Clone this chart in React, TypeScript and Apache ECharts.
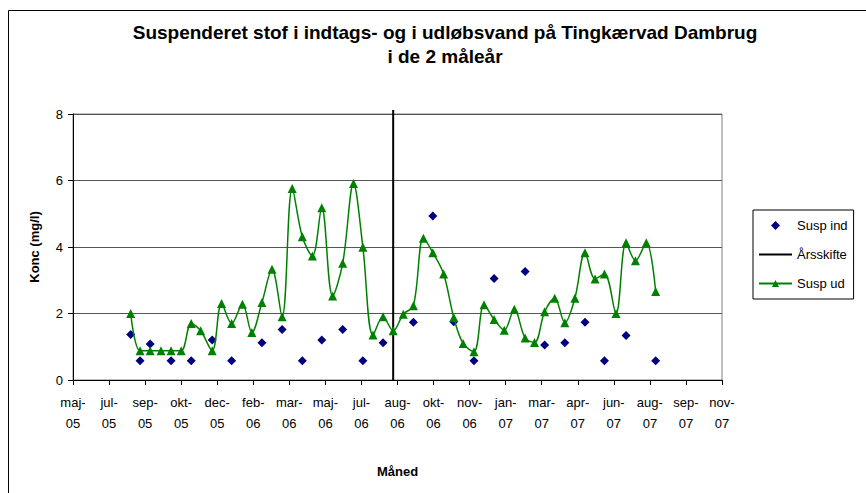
import React, { useEffect, useRef } from "react";
import * as echarts from "echarts";

// Axis start date (tick every 50 days from here)
const AXIS_START = "2005-05-28";
const AXIS_SPAN_DAYS = 900;
const TICK_DAYS = 50;
const MONTHS_DA = ["jan", "feb", "mar", "apr", "maj", "jun", "jul", "aug", "sep", "okt", "nov", "dec"];

const udDates = [
  "2005-08-16", "2005-08-29", "2005-09-12", "2005-09-27", "2005-10-11", "2005-10-25", "2005-11-08", "2005-11-21", "2005-12-07", "2005-12-20",
  "2006-01-03", "2006-01-18", "2006-01-31", "2006-02-14", "2006-02-28", "2006-03-14", "2006-03-28", "2006-04-11", "2006-04-25", "2006-05-08",
  "2006-05-23", "2006-06-06", "2006-06-21", "2006-07-04", "2006-07-18", "2006-08-01", "2006-08-15", "2006-08-29", "2006-09-12", "2006-09-26",
  "2006-10-09", "2006-10-24", "2006-11-07", "2006-11-20", "2006-12-05", "2006-12-19",
  "2007-01-02", "2007-01-16", "2007-01-30", "2007-02-14", "2007-02-27", "2007-03-13", "2007-03-27", "2007-04-10", "2007-04-24", "2007-05-08",
  "2007-05-22", "2007-06-04", "2007-06-20", "2007-07-04", "2007-07-17", "2007-08-01", "2007-08-14",
];
const udValues = [
  2.0, 0.88, 0.88, 0.88, 0.88, 0.88, 1.7, 1.48, 0.88, 2.3,
  1.7, 2.28, 1.43, 2.33, 3.33, 1.9, 5.76, 4.31, 3.73, 5.18,
  2.53, 3.51, 5.91, 3.99, 1.35, 1.9, 1.48, 1.98, 2.23, 4.26,
  3.83, 3.19, 1.88, 1.1, 0.85, 2.26,
  1.82, 1.5, 2.13, 1.26, 1.13, 2.05, 2.46, 1.72, 2.46, 3.83,
  3.04, 3.19, 2.0, 4.13, 3.59, 4.13, 2.66,
];

const indDates = [
  "2005-08-16", "2005-08-29", "2005-09-12", "2005-10-11", "2005-11-08", "2005-12-07", "2006-01-03", "2006-02-14", "2006-03-14", "2006-04-11",
  "2006-05-08", "2006-06-06", "2006-07-04", "2006-08-01", "2006-09-12", "2006-10-09", "2006-11-07", "2006-12-05", "2007-01-02", "2007-02-14",
  "2007-03-13", "2007-04-10", "2007-05-08", "2007-06-04", "2007-07-04", "2007-08-14",
];
const indValues = [
  1.37, 0.58, 1.08, 0.58, 0.58, 1.2, 0.58, 1.12, 1.52, 0.58,
  1.2, 1.52, 0.58, 1.12, 1.74, 4.93, 1.75, 0.58, 3.05, 3.26,
  1.05, 1.12, 1.74, 0.58, 1.34, 0.58,
];

const aarsskifteDate = "2006-08-15";
const aarsskifteValues = [0, 8.12];

const yTicks = { min: 0, max: 8, interval: 2 };

const DAY = 86400000;
const startMs = Date.parse(AXIS_START + "T00:00:00Z");
const dayOf = (s: string) => Math.round((Date.parse(s + "T00:00:00Z") - startMs) / DAY);

const FONT = "'Liberation Sans', Arial, sans-serif";

export default function App() {
  const ref = useRef<HTMLDivElement>(null);
  useEffect(() => {
    document.body.style.margin = "0";
    const chart = echarts.init(ref.current!, null, { renderer: "svg" });
    const option: any = {
      animation: false,
      backgroundColor: "#fff",
      textStyle: { fontFamily: FONT, color: "#000" },
      title: {
        text: "Suspenderet stof i indtags- og i udløbsvand på Tingkærvad Dambrug\ni de 2 måleår",
        left: 445,
        top: 20,
        textAlign: "center",
        padding: 0,
        textStyle: { fontFamily: FONT, fontSize: 19, fontWeight: "bold", color: "#000", lineHeight: 24 },
      },
      legend: {
        orient: "vertical",
        left: 753,
        top: 210,
        padding: [9, 6, 9, 5],
        itemWidth: 33,
        itemHeight: 9,
        itemGap: 16,
        symbolKeepAspect: true,
        borderColor: "#000",
        borderWidth: 1,
        backgroundColor: "#fff",
        textStyle: { fontFamily: FONT, fontSize: 13, color: "#000" },
        data: [
          { name: "Susp ind", icon: "path://M5,0L10,5L5,10L0,5Z", itemStyle: { color: "#000080", opacity: 1 } },
          { name: "Årsskifte", icon: "path://M0,0L33,0L33,2L0,2Z", itemStyle: { color: "#000" } },
          { name: "Susp ud" },
        ],
      },
      graphic: [
        {
          type: "rect",
          shape: { x: 8.5, y: 10.5, width: 1000, height: 1000 },
          style: { fill: "none", stroke: "#000", lineWidth: 1 },
          silent: true,
          z: -10,
        },
      ],
      grid: {
        left: 73,
        top: 114,
        right: 144,
        bottom: 113,
        show: true,
        borderColor: "#808080",
        borderWidth: 1,
        backgroundColor: "transparent",
      },
      xAxis: {
        type: "value",
        min: 0,
        max: AXIS_SPAN_DAYS,
        interval: TICK_DAYS,
        name: "Måned",
        nameLocation: "middle",
        nameGap: 85,
        nameTextStyle: { fontFamily: FONT, fontSize: 13, fontWeight: "bold", color: "#000" },
        axisLine: { show: true, lineStyle: { color: "#000", width: 1 } },
        axisTick: { show: true, length: 5, lineStyle: { color: "#000" } },
        splitLine: { show: false },
        axisLabel: {
          showMinLabel: true,
          showMaxLabel: true,
          fontFamily: FONT,
          fontSize: 13,
          color: "#000",
          lineHeight: 21,
          margin: 12,
          formatter: (v: number) => {
            const d = new Date(startMs + v * DAY);
            const yy = String(d.getUTCFullYear() % 100).padStart(2, "0");
            return MONTHS_DA[d.getUTCMonth()] + "-\n" + yy;
          },
        },
      },
      yAxis: {
        type: "value",
        min: yTicks.min,
        max: yTicks.max,
        interval: yTicks.interval,
        name: "Konc (mg/l)",
        nameLocation: "middle",
        nameGap: 32,
        nameTextStyle: { fontFamily: FONT, fontSize: 13, fontWeight: "bold", color: "#000" },
        axisLine: { show: true, lineStyle: { color: "#000", width: 1 } },
        axisTick: { show: true, length: 5, lineStyle: { color: "#000" } },
        splitLine: { show: true, lineStyle: { color: "#555", width: 1 } },
        axisLabel: { fontFamily: FONT, fontSize: 13, color: "#000", margin: 10 },
      },
      series: [
        {
          name: "Susp ind",
          type: "scatter",
          symbol: "diamond",
          symbolSize: 9,
          itemStyle: { color: "#000080", opacity: 1 },
          data: indDates.map((d, i) => [dayOf(d), indValues[i]]),
          z: 3,
        },
        {
          name: "Årsskifte",
          type: "line",
          symbol: "none",
          clip: false,
          lineStyle: { color: "#000", width: 2 },
          itemStyle: { color: "#000" },
          data: aarsskifteValues.map((v) => [dayOf(aarsskifteDate), v]),
          z: 2,
        },
        {
          name: "Susp ud",
          type: "line",
          smooth: 0.35,
          symbol: "triangle",
          symbolSize: 9,
          showAllSymbol: true,
          lineStyle: { color: "#008000", width: 1.5 },
          itemStyle: { color: "#008000" },
          data: udDates.map((d, i) => [dayOf(d), udValues[i]]),
          z: 4,
        },
      ],
    };
    chart.setOption(option);
    return () => chart.dispose();
  }, []);
  return (
    <div
      ref={ref}
      style={{ position: "fixed", left: 0, top: 0, width: 866, height: 493 }}
    />
  );
}
